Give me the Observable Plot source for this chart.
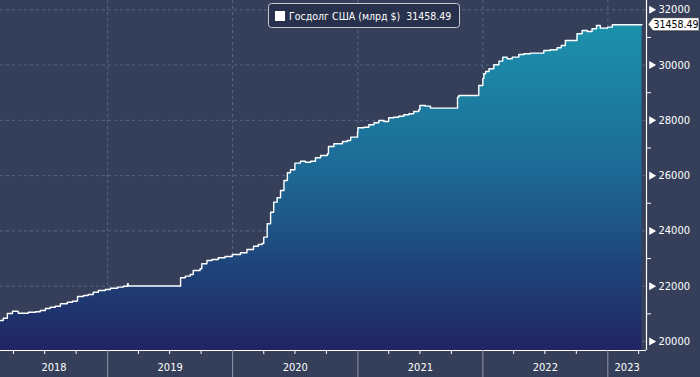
<!DOCTYPE html>
<html><head><meta charset="utf-8">
<script src="https://cdn.jsdelivr.net/npm/d3@7"></script>
<script src="https://cdn.jsdelivr.net/npm/@observablehq/plot@0.6"></script>
<style>
html,body{margin:0;padding:0;background:#363f5a;}
#chart{position:relative;width:700px;height:377px;}
</style></head><body><div id="chart"></div>
<script>
const seriesName = "Госдолг США (млрд $)";
const lastLabel = "31458.49";
const dates = ["2018-02-22","2018-03-02","2018-03-14","2018-03-29","2018-04-12","2018-04-15","2018-05-05","2018-05-14","2018-06-04","2018-06-18","2018-07-03","2018-07-17","2018-08-01","2018-08-16","2018-09-05","2018-09-20","2018-10-04","2018-10-05","2018-10-22","2018-11-05","2018-11-20","2018-12-05","2018-12-25",
"2019-01-09","2019-01-30","2019-02-16","2019-02-28","2019-03-02","2019-08-01","2019-08-02","2019-08-16","2019-08-30","2019-09-08","2019-09-28","2019-10-03","2019-10-18","2019-11-02","2019-11-20","2019-12-10","2019-12-31",
"2020-01-24","2020-02-12","2020-03-02","2020-03-16","2020-03-27","2020-04-01","2020-04-11","2020-04-21","2020-04-30","2020-05-10","2020-05-20","2020-05-30","2020-06-09","2020-06-18","2020-07-01","2020-07-17","2020-08-01","2020-08-16","2020-08-30","2020-09-14","2020-10-04","2020-10-07","2020-10-23","2020-11-17","2020-12-01","2020-12-11","2020-12-31",
"2021-01-01","2021-01-19","2021-02-02","2021-02-17","2021-03-03","2021-03-18","2021-04-01","2021-04-16","2021-04-30","2021-05-15","2021-05-30","2021-06-13","2021-06-28","2021-07-01","2021-07-17","2021-08-01","2021-10-13","2021-10-19","2021-10-23","2021-12-17","2021-12-20",
"2022-01-01","2022-01-04","2022-01-09","2022-01-19","2022-02-02","2022-02-17","2022-02-28","2022-03-13","2022-03-28","2022-04-16","2022-05-01","2022-05-20","2022-06-09","2022-06-28","2022-07-17","2022-08-06","2022-08-18","2022-08-30","2022-10-01","2022-10-03","2022-10-18","2022-11-02","2022-11-16","2022-11-29","2022-12-10","2022-12-31",
"2023-01-14","2023-04-11"];
const debt = [20760,20843,21013,21096,21085,21024,21024,21060,21075,21122,21194,21241,21277,21364,21422,21458,21483,21628,21664,21700,21784,21845,21881,
21928,21965,22001,22088,22008,22001,22305,22363,22424,22569,22630,22811,22931,22967,23028,23075,23148,
23209,23329,23448,23509,23546,23774,24258,24678,25040,25199,25463,25825,26104,26212,26451,26523,26487,26523,26646,26730,26791,27055,27153,27236,27272,27392,27573,
27732,27753,27840,27913,27996,27960,28094,28115,28151,28202,28238,28321,28394,28538,28513,28441,28441,28839,28900,28900,29262,
29515,29685,29769,29866,30011,30141,30286,30228,30286,30384,30409,30431,30431,30529,30554,30626,30709,30890,30890,31133,31252,31216,31314,31433,31336,31372,
31458.49,31458.49];
const yTicks = [20000,22000,24000,26000,28000,30000,32000];
const yMinorTicks = [21000,23000,25000,27000,29000,31000];
const yearLabels = ["2018","2019","2020","2021","2022","2023"];
const xStart = "2018-02-22", xEnd = "2023-04-24";
const yMin = 19674, yMax = 32336;

const data = dates.map((d, i) => ({date: new Date(d), value: debt[i]}));
const x0 = new Date(xStart), x1 = new Date(xEnd);
const yearStarts = yearLabels.slice(1).map(y => new Date(`${y}-01-01`));
const quarters = [];
for (const y of yearLabels) for (const m of ["04","07","10"]) {
  const d = new Date(`${y}-${m}-01`);
  if (d >= x0 && d <= x1) quarters.push(d);
}
const yearMid = yearLabels.map(y => {
  const a = Math.max(+new Date(`${y}-01-01`), +x0);
  const b = Math.min(+new Date(`${+y + 1}-01-01`), +x1);
  return {year: y, date: new Date((a + b) / 2)};
});

const font = 'Tahoma, "DejaVu Sans Condensed", "Liberation Sans", sans-serif';
const grid = "#566888";
const plot = Plot.plot({
  width: 700, height: 377, marginLeft: 0, marginRight: 54, marginTop: 0, marginBottom: 27,
  style: {background: "#363f5a", color: "white", fontFamily: font, fontSize: "11px", overflow: "visible"},
  x: {type: "utc", domain: [x0, x1]},
  y: {domain: [yMin, yMax]},
  marks: [
    Plot.ruleY(yTicks, {stroke: grid, strokeDasharray: "3,3"}),
    Plot.ruleX(yearStarts, {stroke: grid, strokeDasharray: "3,3"}),
    Plot.areaY(data, {x: "date", y1: yMin, y2: "value", curve: "step-after", fill: "url(#debtGrad)"}),
    Plot.lineY(data, {x: "date", y: "value", curve: "step-after", stroke: "white", strokeWidth: 1.4}),
    Plot.ruleX([x1], {stroke: "white", strokeWidth: 1.2}),
    Plot.ruleY([yMin], {stroke: "white", strokeWidth: 1.2}),
    Plot.axisX(quarters, {anchor: "bottom", tickSize: 4, tickFormat: () => "", stroke: "white", label: null}),
    Plot.axisX(yearStarts, {anchor: "bottom", tickSize: 27, tickFormat: () => "", stroke: "#8c95aa", label: null}),
    Plot.text(yearMid, {x: "date", text: "year", frameAnchor: "bottom", dy: 20, fill: "white", fontSize: 11}),
    Plot.axisY(yMinorTicks, {anchor: "right", tickSize: 4, tickFormat: () => "", stroke: "white", label: null}),
    Plot.axisY(yTicks, {anchor: "right", tickSize: 0, tickPadding: 12, tickFormat: d => String(d), fill: "white", label: null, fontSize: 11}),
    Plot.dot(yTicks, {x: () => x1, y: d => d, symbol: "triangle", rotate: 90, r: 3, fill: "white", stroke: null, dx: 5})
  ]
});

const svg = d3.select(plot);
svg.insert("defs", ":first-child").html(
  `<linearGradient id="debtGrad" gradientUnits="userSpaceOnUse" x1="0" y1="20" x2="0" y2="350">
     <stop offset="0" stop-color="#1b93ad"/>
     <stop offset="0.45" stop-color="#1d6a96"/>
     <stop offset="1" stop-color="#202462"/>
   </linearGradient>`);

// last value label on the right axis
const yLast = plot.scale("y").apply(debt[debt.length - 1]);
const xr = plot.scale("x").range[1];
const lg = svg.append("g");
lg.append("path")
  .attr("d", `M${xr + 2},${yLast} L${xr + 7},${yLast - 6.5} H${xr + 53} V${yLast + 6.5} H${xr + 7} Z`)
  .attr("fill", "white").attr("stroke", "#222").attr("stroke-width", 0.6);
lg.append("text").attr("x", xr + 30).attr("y", yLast).attr("dy", "0.35em")
  .attr("text-anchor", "middle").attr("fill", "black")
  .style("font", `10.5px ${font}`).text(lastLabel);

// legend
const leg = svg.append("g").attr("text-anchor", "start");
leg.append("rect").attr("x", 268.5).attr("y", 3.5).attr("width", 191).attr("height", 24).attr("rx", 3)
  .attr("fill", "#28314b").attr("stroke", "#c5cad4").attr("stroke-width", 1);
leg.append("rect").attr("x", 275).attr("y", 11).attr("width", 10).attr("height", 10).attr("fill", "white");
leg.append("text").attr("x", 289).attr("y", 16).attr("dy", "0.35em").attr("fill", "white")
  .attr("text-anchor", "start").style("white-space", "pre").style("font", `10.5px ${font}`)
  .text(`${seriesName}  ${lastLabel}`);

document.getElementById("chart").append(plot);
</script>
</body></html>
